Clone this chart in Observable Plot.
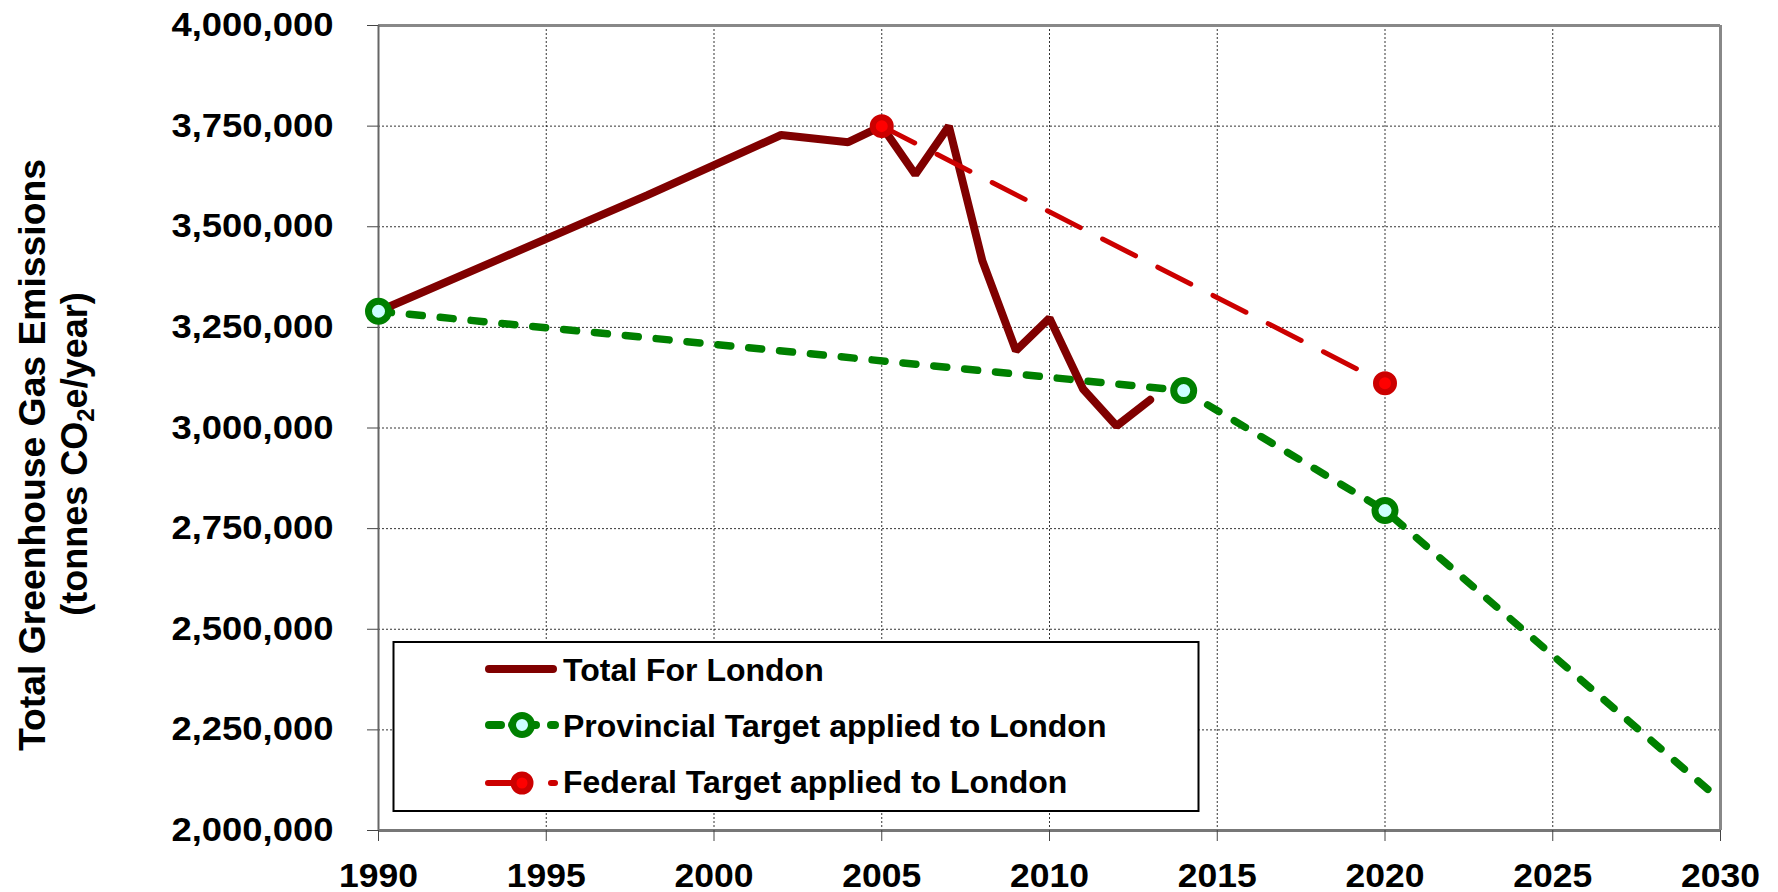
<!DOCTYPE html>
<html>
<head>
<meta charset="utf-8">
<script src="https://cdn.jsdelivr.net/npm/d3@7"></script>
<script src="https://cdn.jsdelivr.net/npm/@observablehq/plot@0.6"></script>
<style>
  html, body { margin: 0; padding: 0; background: #fff; }
  svg { display: block; }
</style>
</head>
<body>
<div id="chart"></div>
<script>
// ---------- data ----------
const totalYears  = [1990, 1998, 2002, 2004, 2005, 2006, 2007, 2008, 2009, 2010, 2011, 2012, 2013];
const totalValues = [3290000, 3578000, 3728000, 3710000, 3750000, 3630000, 3750000, 3415000, 3192000, 3273000, 3097000, 3005000, 3070000];

const provYears   = [1990, 2014, 2020, 2030];
const provValues  = [3290000, 3093000, 2795000, 2075000];
const provMarked  = [true, true, true, false];

const fedYears    = [2005, 2020];
const fedValues   = [3750000, 3111000];

const xTicks = [1990, 1995, 2000, 2005, 2010, 2015, 2020, 2025, 2030];
const yTicks = [2000000, 2250000, 2500000, 2750000, 3000000, 3250000, 3500000, 3750000, 4000000];

const seriesNames = ["Total For London", "Provincial Target applied to London", "Federal Target applied to London"];
const titleLine1 = "Total Greenhouse Gas Emissions";

// ---------- tables ----------
const totalData = totalYears.map((year, i) => ({year, value: totalValues[i]}));
const provData  = provYears.map((year, i) => ({year, value: provValues[i], marked: provMarked[i]}));
const fedData   = fedYears.map((year, i) => ({year, value: fedValues[i]}));

const font = "'Liberation Sans', Arial, Helvetica, sans-serif";
const fmt = d3.format(",");

const chart = Plot.plot({
  width: 1778,
  height: 892,
  marginLeft: 378,
  marginRight: 58,
  marginTop: 25,
  marginBottom: 62,
  style: {fontFamily: font, fontWeight: "bold", fontSize: "32px", color: "#000", background: "#fff", overflow: "visible"},
  x: {domain: [1990, 2030]},
  y: {domain: [2000000, 4000000]},
  marks: [
    Plot.gridX(xTicks.slice(1, -1), {stroke: "#000", strokeOpacity: 0.8, strokeWidth: 1, strokeDasharray: "2,2"}),
    Plot.gridY(yTicks.slice(1, -1), {stroke: "#000", strokeOpacity: 0.8, strokeWidth: 1, strokeDasharray: "2,2"}),
    Plot.ruleY([4000000], {stroke: "#888", strokeWidth: 3}),
    Plot.ruleX([2030], {stroke: "#888", strokeWidth: 3}),
    Plot.ruleX([1990], {stroke: "#666", strokeWidth: 2}),
    Plot.ruleY([2000000], {stroke: "#777", strokeWidth: 3}),
    Plot.axisX({ticks: xTicks, tickFormat: d => String(d), tickSize: 11, tickPadding: 21, label: null, stroke: "#444", fill: "#000", fontSize: 34, fontWeight: "bold"}),
    Plot.axisY({ticks: yTicks, tickFormat: fmt, tickSize: 11, tickPadding: 34, label: null, stroke: "#444", fill: "#000", fontSize: 33, fontWeight: "bold"}),
    Plot.line(provData, {x: "year", y: "value", stroke: "#008000", strokeWidth: 7.5, strokeDasharray: "13,18", strokeLinecap: "round"}),
    Plot.line(totalData, {x: "year", y: "value", stroke: "#800000", strokeWidth: 8, strokeLinejoin: "miter", strokeLinecap: "round"}),
    Plot.line(fedData, {x: "year", y: "value", stroke: "#cc0000", strokeWidth: 5, strokeDasharray: "37,25", strokeLinecap: "round"}),
    Plot.dot(provData.filter(d => d.marked), {x: "year", y: "value", r: 10, stroke: "#008000", strokeWidth: 7, fill: "#ccffff"}),
    Plot.dot(fedData, {x: "year", y: "value", r: 9, stroke: "#cc0000", strokeWidth: 6, fill: "#ff0000"})
  ]
});

document.getElementById("chart").appendChild(chart);

const svg = d3.select(chart);

// stretch tick labels to match reference widths
svg.selectAll('g[aria-label="y-axis tick label"] text')
  .attr("textLength", 162).attr("lengthAdjust", "spacingAndGlyphs");
svg.selectAll('g[aria-label="x-axis tick label"] text')
  .attr("textLength", 79).attr("lengthAdjust", "spacingAndGlyphs");

// ---------- y-axis title ----------
const tg = svg.append("g")
  .attr("font-family", font).attr("font-weight", "bold").attr("fill", "#000");
tg.append("text")
  .attr("transform", "translate(45,455) rotate(-90)")
  .attr("text-anchor", "middle")
  .attr("font-size", 37)
  .attr("textLength", 592).attr("lengthAdjust", "spacingAndGlyphs")
  .text(titleLine1);
const t2 = tg.append("text")
  .attr("transform", "translate(87,454) rotate(-90)")
  .attr("text-anchor", "middle")
  .attr("font-size", 36);
t2.append("tspan").text("(tonnes CO");
t2.append("tspan").attr("font-size", 24).attr("dy", "0.3em").text("2");
t2.append("tspan").attr("dy", "-0.2em").text("e/year)");

// ---------- legend ----------
const lg = svg.append("g").attr("font-family", font).attr("font-weight", "bold");
lg.append("rect")
  .attr("x", 393.5).attr("y", 642).attr("width", 805).attr("height", 169)
  .attr("fill", "#fff").attr("stroke", "#000").attr("stroke-width", 2);

// row 1: total
lg.append("line").attr("x1", 489).attr("x2", 553).attr("y1", 669).attr("y2", 669)
  .attr("stroke", "#800000").attr("stroke-width", 8).attr("stroke-linecap", "round");

// row 2: provincial
[[489, 501], [512, 536], [551, 555]].forEach(([a, b]) => {
  lg.append("line").attr("x1", a).attr("x2", b).attr("y1", 725).attr("y2", 725)
    .attr("stroke", "#008000").attr("stroke-width", 8).attr("stroke-linecap", "round");
});
lg.append("circle").attr("cx", 522).attr("cy", 725).attr("r", 9.5)
  .attr("fill", "#ccffff").attr("stroke", "#008000").attr("stroke-width", 7);

// row 3: federal
[[488, 512], [551, 555]].forEach(([a, b]) => {
  lg.append("line").attr("x1", a).attr("x2", b).attr("y1", 783).attr("y2", 783)
    .attr("stroke", "#cc0000").attr("stroke-width", 6).attr("stroke-linecap", "round");
});
lg.append("circle").attr("cx", 522).attr("cy", 783).attr("r", 8.5)
  .attr("fill", "#ff0000").attr("stroke", "#cc0000").attr("stroke-width", 6);

const baselines = [681, 737, 793];
seriesNames.forEach((name, i) => {
  lg.append("text").attr("x", 563).attr("y", baselines[i])
    .attr("text-anchor", "start")
    .attr("font-size", 32).attr("fill", "#000").text(name);
});
</script>
</body>
</html>
